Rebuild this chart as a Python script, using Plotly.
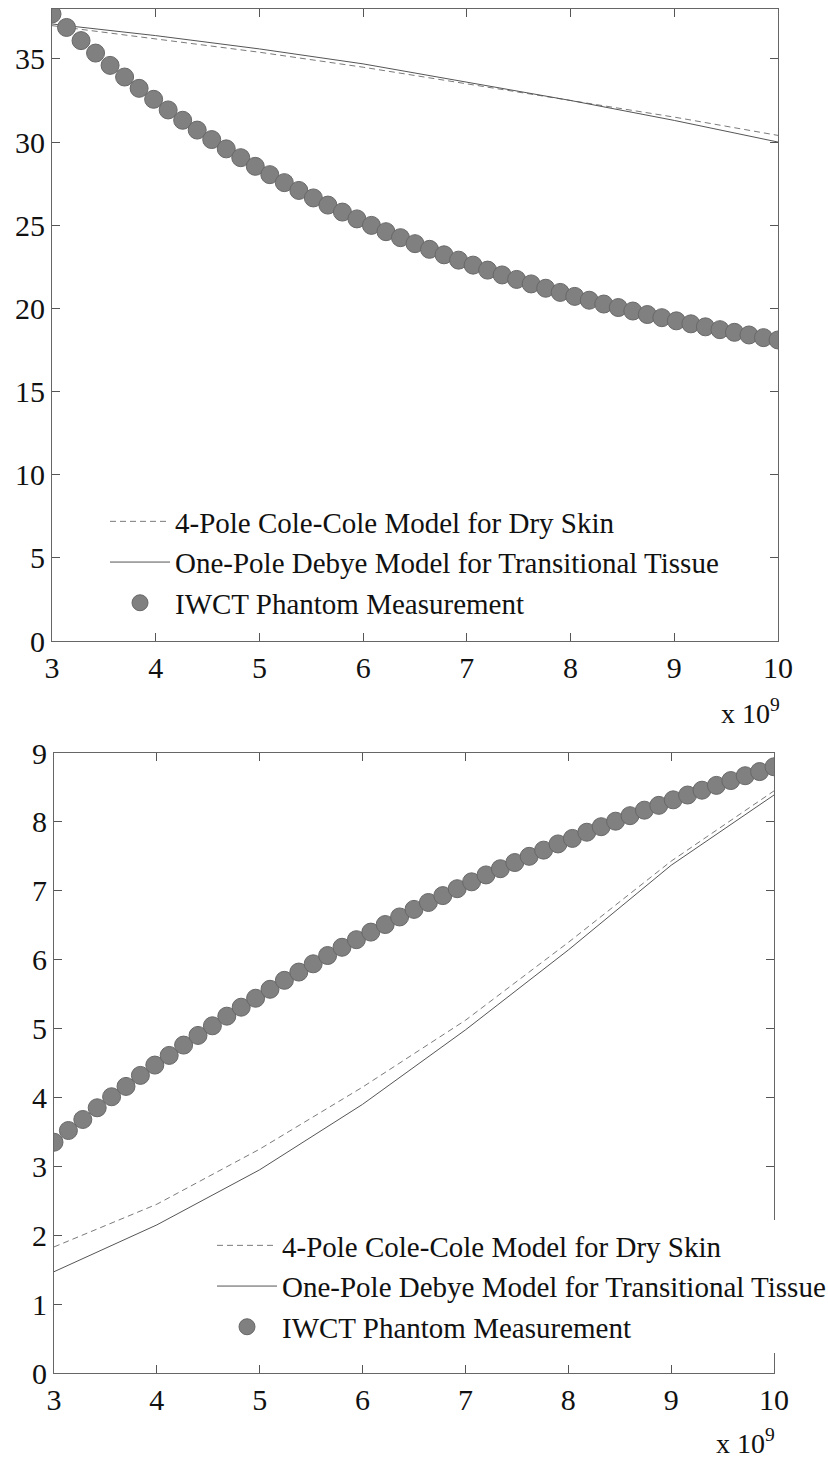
import plotly.graph_objects as go

# Frequency grid (in units of 1e9 Hz)
freq_model = [3, 4, 5, 6, 7, 8, 9, 10]
freq_meas = [3.00, 3.14, 3.28, 3.42, 3.56, 3.70, 3.84, 3.98, 4.12, 4.26,
             4.40, 4.54, 4.68, 4.82, 4.96, 5.10, 5.24, 5.38, 5.52, 5.66,
             5.80, 5.94, 6.08, 6.22, 6.36, 6.50, 6.64, 6.78, 6.92, 7.06,
             7.20, 7.34, 7.48, 7.62, 7.76, 7.90, 8.04, 8.18, 8.32, 8.46,
             8.60, 8.74, 8.88, 9.02, 9.16, 9.30, 9.44, 9.58, 9.72, 9.86,
             10.00]

# Upper panel
cole_top = [37.0, 36.2, 35.4, 34.5, 33.5, 32.5, 31.5, 30.4]
debye_top = [37.1, 36.4, 35.6, 34.7, 33.6, 32.5, 31.3, 30.0]
meas_top = [37.70, 36.89, 36.10, 35.35, 34.61, 33.91, 33.23, 32.57, 31.93, 31.31,
            30.72, 30.15, 29.59, 29.06, 28.54, 28.04, 27.56, 27.09, 26.64, 26.21,
            25.79, 25.38, 24.99, 24.61, 24.25, 23.89, 23.55, 23.22, 22.90, 22.60,
            22.30, 22.01, 21.74, 21.47, 21.21, 20.96, 20.72, 20.49, 20.26, 20.05,
            19.84, 19.63, 19.44, 19.25, 19.07, 18.89, 18.72, 18.56, 18.40, 18.24,
            18.10]

# Lower panel
cole_bot = [1.83, 2.45, 3.25, 4.15, 5.12, 6.25, 7.43, 8.45]
debye_bot = [1.47, 2.15, 2.95, 3.90, 4.98, 6.14, 7.37, 8.39]
meas_bot = [3.35, 3.52, 3.68, 3.85, 4.01, 4.16, 4.32, 4.47, 4.61, 4.76,
            4.90, 5.04, 5.18, 5.31, 5.44, 5.57, 5.70, 5.82, 5.94, 6.06,
            6.18, 6.29, 6.40, 6.51, 6.62, 6.73, 6.83, 6.93, 7.03, 7.13,
            7.23, 7.32, 7.41, 7.50, 7.59, 7.68, 7.76, 7.85, 7.93, 8.01,
            8.09, 8.17, 8.24, 8.32, 8.39, 8.46, 8.53, 8.60, 8.67, 8.73,
            8.80]

names = ["4-Pole Cole-Cole Model for Dry Skin",
         "One-Pole Debye Model for Transitional Tissue",
         "IWCT Phantom Measurement"]

FONT = "Liberation Serif, Times New Roman, Times, serif"
W, H = 828, 1460

fig = go.Figure()

def add_panel(cole, debye, meas, xa, ya, legend):
    fig.add_trace(go.Scatter(x=freq_model, y=cole, mode="lines", name=names[0],
                             line=dict(color="#7a7a7a", width=1, dash="6px,4px"),
                             xaxis=xa, yaxis=ya, legend=legend))
    fig.add_trace(go.Scatter(x=freq_model, y=debye, mode="lines", name=names[1],
                             line=dict(color="#555555", width=1),
                             xaxis=xa, yaxis=ya, legend=legend))
    fig.add_trace(go.Scatter(x=freq_meas, y=meas, mode="markers", name=names[2],
                             marker=dict(size=18, color="#808080",
                                         line=dict(color="#686868", width=1)),
                             xaxis=xa, yaxis=ya, legend=legend))

add_panel(cole_top, debye_top, meas_top, "x", "y", "legend")
add_panel(cole_bot, debye_bot, meas_bot, "x2", "y2", "legend2")

axis_common = dict(showgrid=False, zeroline=False, showline=True, mirror="ticks",
                   linecolor="#666666", linewidth=1, ticks="inside",
                   tickcolor="#555555", tickwidth=1, automargin=False,
                   tickfont=dict(family=FONT, size=30, color="#111111"))

legend_common = dict(xanchor="left", yanchor="top", bgcolor="white", borderwidth=0,
                     itemwidth=60, tracegroupgap=0,
                     font=dict(family=FONT, size=29, color="#111111"))

fig.update_layout(
    width=W, height=H,
    margin=dict(l=0, r=0, t=0, b=0, autoexpand=False),
    paper_bgcolor="white", plot_bgcolor="white",
    showlegend=True,
    xaxis=dict(domain=[52 / W, 778 / W], range=[3, 10], dtick=1, ticklen=8,
               anchor="y", **axis_common),
    yaxis=dict(domain=[1 - 641 / H, 1 - 9 / H], range=[0, 38], dtick=5, ticklen=8,
               anchor="x", **axis_common),
    xaxis2=dict(domain=[54 / W, 774 / W], range=[3, 10], dtick=1, ticklen=8,
                anchor="y2", **axis_common),
    yaxis2=dict(domain=[1 - 1373 / H, 1 - 753 / H], range=[0, 9], dtick=1, ticklen=8,
                anchor="x2", **axis_common),
    legend=dict(x=105 / W, y=1 - 496 / H, **legend_common),
    legend2=dict(x=212 / W, y=1 - 1220 / H, **legend_common),
    annotations=[
        dict(text="x 10<sup>9</sup>", x=782 / W, y=1 - 692 / H, xref="paper", yref="paper",
             xanchor="right", yanchor="top", showarrow=False,
             font=dict(family=FONT, size=28, color="#111111")),
        dict(text="x 10<sup>9</sup>", x=777 / W, y=1 - 1422 / H, xref="paper", yref="paper",
             xanchor="right", yanchor="top", showarrow=False,
             font=dict(family=FONT, size=28, color="#111111")),
    ],
)

fig.write_html("out.html", post_script="document.body.style.margin='0';")
